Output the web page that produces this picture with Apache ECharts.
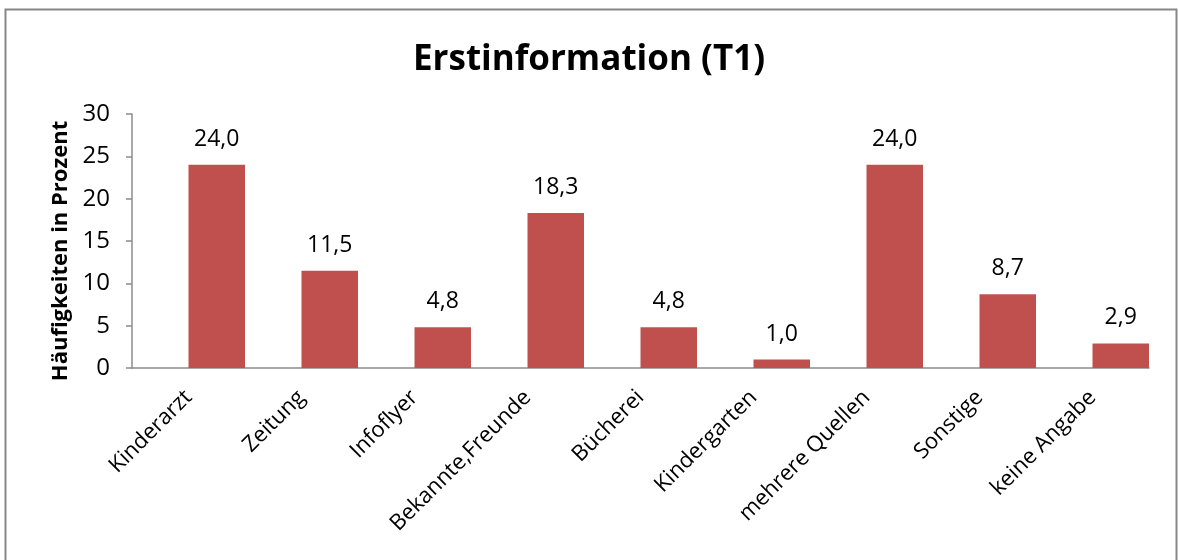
<!DOCTYPE html>
<html>
<head>
<meta charset="utf-8">
<script src="https://cdn.jsdelivr.net/npm/echarts@6/dist/echarts.min.js"></script>
<style>
html,body{margin:0;padding:0;background:#fff;}
#chart{width:1178px;height:560px;}
</style>
</head>
<body>
<div id="chart"></div>
<script>
const titleText = 'Erstinformation (T1)';
const yAxisName = 'Häufigkeiten in Prozent';
const categories = ['Kinderarzt','Zeitung','Infoflyer','Bekannte,Freunde','Bücherei','Kindergarten','mehrere Quellen','Sonstige','keine Angabe'];
const values = [24.0, 11.5, 4.8, 18.3, 4.8, 1.0, 24.0, 8.7, 2.9];
const yMin = 0, yMax = 30, yStep = 5;

const FONT = '"Open Sans", "Liberation Sans", sans-serif';
const chart = echarts.init(document.getElementById('chart'), null, {renderer:'canvas'});
chart.setOption({
  backgroundColor:'#ffffff',
  animation:false,
  textStyle:{fontFamily:FONT, color:'#000'},
  title:{
    text:titleText, left:'center', top:38,
    textStyle:{fontFamily:FONT, fontWeight:'bold', fontSize:35, color:'#000'}
  },
  graphic:[{
    type:'rect', silent:true,
    shape:{x:5.5, y:9.5, width:1171, height:620},
    style:{fill:'none', stroke:'#878787', lineWidth:2}
  }],
  grid:{left:132, right:29, top:114, bottom:192, containLabel:false},
  xAxis:{
    type:'category', data:categories,
    axisLine:{lineStyle:{color:'#8c8c8c', width:1.5}},
    axisTick:{show:false},
    axisLabel:{rotate:45, margin:26, fontSize:22, color:'#000', fontFamily:FONT, interval:0}
  },
  yAxis:{
    type:'value', min:yMin, max:yMax, interval:yStep,
    name:yAxisName, nameLocation:'middle', nameGap:56,
    nameTextStyle:{fontFamily:FONT, fontWeight:'bold', fontSize:22, color:'#000', padding:[0,20,0,0]},
    splitLine:{show:false},
    axisLine:{show:true, lineStyle:{color:'#8c8c8c', width:1.5}},
    axisTick:{show:true, length:6, lineStyle:{color:'#8c8c8c', width:1.5}},
    axisLabel:{fontSize:24, margin:22, color:'#000', fontFamily:FONT}
  },
  series:[
    {type:'bar', data:categories.map(()=>null), barGap:'0%', barCategoryGap:'0%', silent:true},
    {type:'bar', data:values, barGap:'0%', barCategoryGap:'0%',
     itemStyle:{color:'#C0504D'},
     label:{show:true, position:'top', distance:14, fontSize:23, color:'#000', fontFamily:FONT,
       formatter:p=>p.value.toFixed(1).replace('.',',')}}
  ]
});
</script>
</body>
</html>
